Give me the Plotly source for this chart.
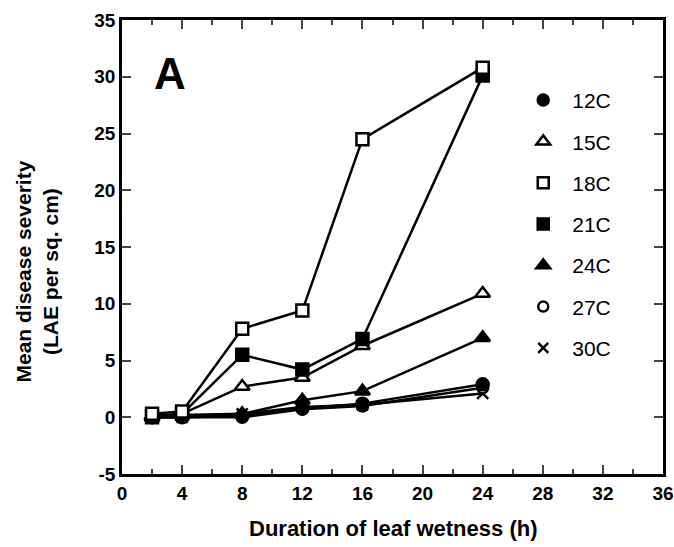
import plotly.graph_objects as go

hours = [2, 4, 8, 12, 16, 24]
series_names = ["12C", "15C", "18C", "21C", "24C", "27C", "30C"]
sev_12C = [0.0, 0.0, 0.1, 0.8, 1.2, 2.9]
sev_15C = [0.1, 0.3, 2.7, 3.5, 6.3, 10.9]
sev_18C = [0.3, 0.5, 7.8, 9.4, 24.5, 30.8]
sev_21C = [0.0, 0.3, 5.5, 4.2, 6.9, 30.1]
sev_24C = [0.0, 0.2, 0.3, 1.5, 2.3, 7.0]
sev_27C = [0.0, 0.0, 0.0, 0.7, 1.0, 2.6]
sev_30C = [0.0, 0.0, 0.3, 0.9, 1.1, 2.1]
x_ticks = [0, 4, 8, 12, 16, 20, 24, 28, 32, 36]
y_ticks = [-5, 0, 5, 10, 15, 20, 25, 30, 35]
y_tick_text = ["-5", "0", "5", "10", "15", "20", "25", "30", "35"]

values = [sev_12C, sev_15C, sev_18C, sev_21C, sev_24C, sev_27C, sev_30C]
styles = [
    dict(symbol="circle", color="black", size=12),
    dict(symbol="triangle-up", color="white", size=13),
    dict(symbol="square", color="white", size=12),
    dict(symbol="square", color="black", size=12),
    dict(symbol="triangle-up", color="black", size=13),
    dict(symbol="circle", color="white", size=11),
    dict(symbol="x-thin", color="black", size=11),
]

fig = go.Figure()
draw_order = [6, 5, 0, 4, 1, 3, 2]
for i in draw_order:
    st = styles[i]
    fig.add_trace(go.Scatter(
        x=hours, y=values[i], mode="lines+markers", showlegend=False,
        line=dict(color="black", width=2.5),
        marker=dict(symbol=st["symbol"], size=st["size"], color=st["color"],
                    line=dict(color="black", width=2.5)),
    ))
for i, name in enumerate(series_names):
    st = styles[i]
    fig.add_trace(go.Scatter(
        x=[None], y=[None], mode="markers", name=name, legendgroup=name,
        marker=dict(symbol=st["symbol"], size=st["size"] - 1, color=st["color"],
                    line=dict(color="black", width=2.5)),
    ))

tick_font = dict(family="Liberation Sans, Arial", size=19, color="black", weight="bold")
fig.update_layout(
    width=674, height=547,
    margin=dict(l=122, r=11, t=20, b=73, autoexpand=False),
    plot_bgcolor="white", paper_bgcolor="white",
    font=dict(family="Liberation Sans, Arial, sans-serif", color="black"),
    xaxis=dict(range=[0, 36], tickvals=x_ticks, ticks="inside", ticklen=9, tickwidth=2,
               showline=True, linewidth=2.5, linecolor="black", mirror="ticks",
               showgrid=False, zeroline=False,
               minor=dict(dtick=2, ticks="inside", ticklen=5, tickwidth=2, showgrid=False),
               tickfont=tick_font),
    yaxis=dict(range=[-5, 35], tickvals=y_ticks, ticktext=y_tick_text, ticks="inside",
               ticklen=9, tickwidth=2,
               showline=True, linewidth=2.5, linecolor="black", mirror="ticks",
               showgrid=False, zeroline=False,
               tickfont=tick_font),
    legend=dict(x=0.725, y=0.868, xanchor="left", yanchor="top", bgcolor="rgba(0,0,0,0)",
                font=dict(size=21, color="black"), tracegroupgap=11, itemwidth=48),
    annotations=[
        dict(x=3.2, y=30.3, xref="x", yref="y", text="<b>A</b>", showarrow=False,
             font=dict(family="Liberation Sans, Arial", size=44, color="black")),
        dict(x=-0.158, y=0.445, xref="paper", yref="paper", textangle=-90,
             text="<b>Mean disease severity<br>(LAE per sq. cm)</b>", showarrow=False,
             xanchor="center", yanchor="middle",
             font=dict(family="Liberation Sans, Arial", size=21, color="black")),
        dict(x=0.5, y=-0.119, xref="paper", yref="paper",
             text="<b>Duration of leaf wetness (h)</b>", showarrow=False,
             xanchor="center", yanchor="middle",
             font=dict(family="Liberation Sans, Arial", size=22, color="black")),
    ],
)
fig.write_html("out.html")
